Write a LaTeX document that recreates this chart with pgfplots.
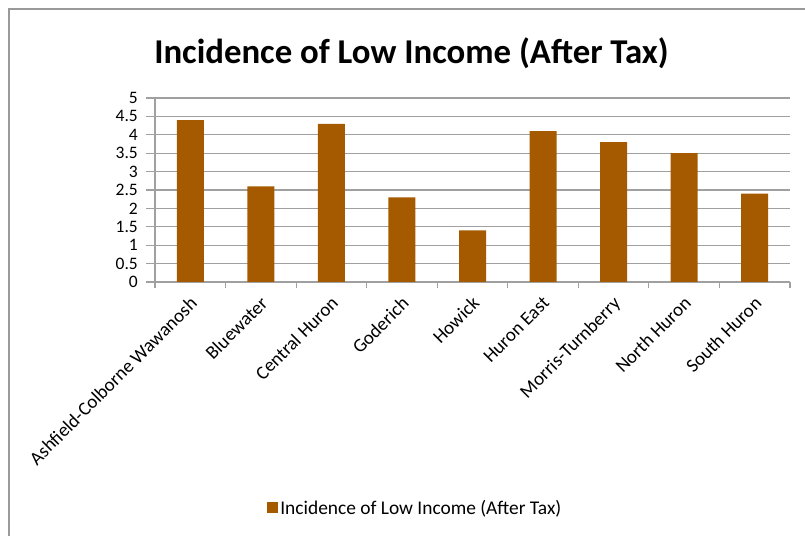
\documentclass[border=0pt]{standalone}
\usepackage{pgfplots}
\pgfplotsset{compat=1.18}
\usepackage{fontspec}
\setmainfont{Carlito}
\definecolor{barc}{HTML}{A65A00}
\definecolor{gridc}{HTML}{A0A0A0}
\definecolor{framec}{HTML}{9A9A9A}
\begin{document}
\begin{tikzpicture}
\useasboundingbox (0,0) rectangle (805bp,536bp);
\draw[framec, line width=1.6bp] (8.8bp,0) |- (805bp,527bp);
\node[font=\fontsize{34.8bp}{40bp}\selectfont\bfseries] at (411.5bp,483bp) {Incidence of Low Income (After Tax)};
\begin{axis}[
  at={(155bp,254bp)}, anchor=south west,
  scale only axis, width=635bp, height=184bp,
  xmin=-0.5, xmax=8.5, ymin=0, ymax=5,
  axis x line=bottom, axis y line=left,
  axis line style={-, gridc, line width=1.2bp},
  ytick={0,0.5,...,5},
  yticklabels={0,0.5,1,1.5,2,2.5,3,3.5,4,4.5,5},
  ymajorgrids, major grid style={gridc, line width=1.2bp},
  xtick={0,...,8},
  xticklabels={Ashfield-Colborne Wawanosh,Bluewater,Central Huron,Goderich,Howick,Huron East,Morris-Turnberry,North Huron,South Huron},
  minor xtick={-0.5,0.5,...,8.5},
  x tick label style={rotate=45, anchor=north east, font=\fontsize{19bp}{20bp}\selectfont, inner sep=1bp, xshift=-3bp, yshift=-1bp},
  y tick label style={font=\fontsize{17.5bp}{18bp}\selectfont, inner sep=1bp, xshift=-7bp},
  /pgf/number format/assume math mode=true,
  tick align=outside,
  major x tick style={draw=none},
  minor x tick style={gridc, line width=1.2bp},
  minor tick length=6bp,
  major tick length=9bp,
  y tick style={gridc, line width=1.2bp},
  legend style={at={(0.41,-1.228)}, anchor=center, draw=none, fill=none,
    font=\fontsize{19.4bp}{21bp}\selectfont, legend cell align=left},
  legend image code/.code={\fill[barc] (0bp,-5.5bp) rectangle (11bp,5.5bp);},
]
\addplot[ybar, bar width=27bp, fill=barc, draw=none] coordinates {
(0,4.4) (1,2.6) (2,4.3) (3,2.3) (4,1.4) (5,4.1) (6,3.8) (7,3.5) (8,2.4)};
\addlegendentry{Incidence of Low Income (After Tax)}
\end{axis}
\end{tikzpicture}
\end{document}
